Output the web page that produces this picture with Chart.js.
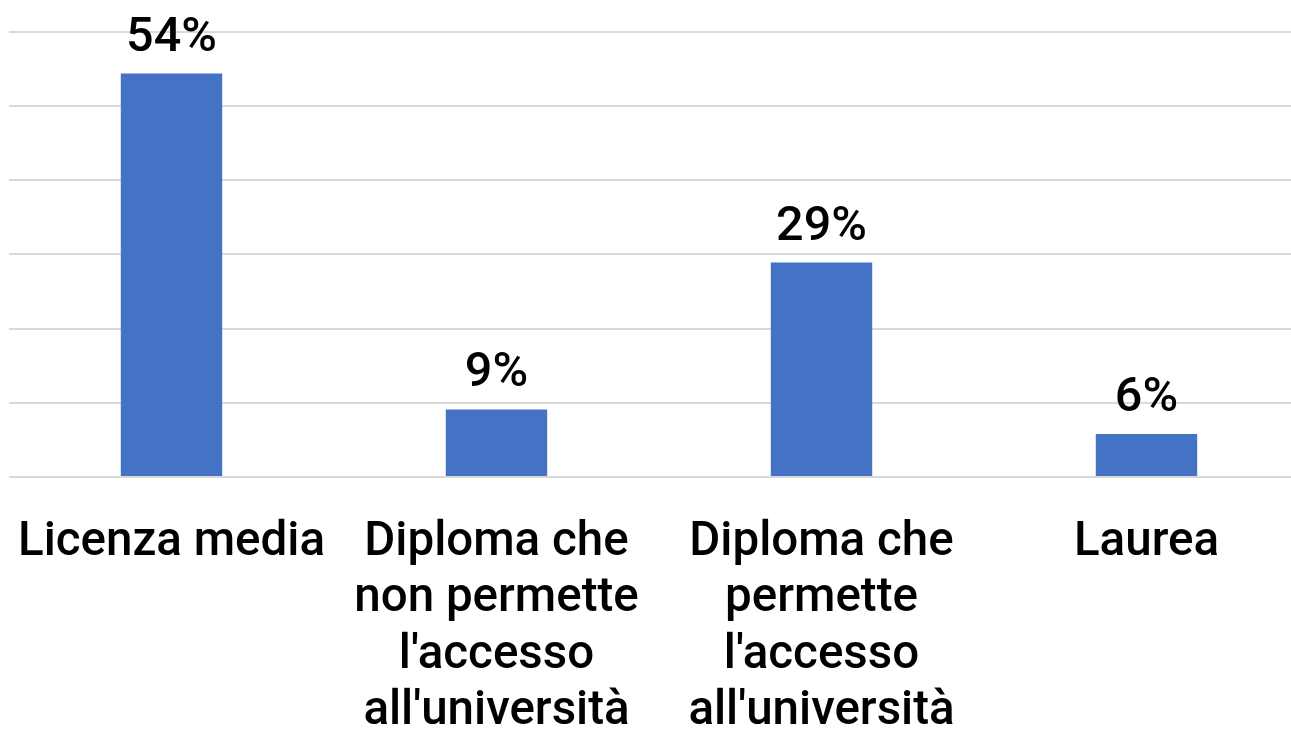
<!DOCTYPE html>
<html>
<head>
<meta charset="utf-8">
<script src="https://cdn.jsdelivr.net/npm/chart.js@4/dist/chart.umd.min.js"></script>
<style>
html,body{margin:0;padding:0;background:#fff;overflow:hidden;}
#wrap{width:1291px;height:729px;overflow:hidden;}
</style>
</head>
<body>
<div id="wrap"><canvas id="c" width="1310" height="778"></canvas></div>
<script>
const categories = [
  ["Licenza media"],
  ["Diploma che", "non permette", "l'accesso", "all'università"],
  ["Diploma che", "permette", "l'accesso", "all'università"],
  ["Laurea"]
];
const values = [54.4, 9.1, 28.9, 5.8];
const valueLabels = ["54%", "9%", "29%", "6%"];
const yTicks = [0, 10, 20, 30, 40, 50, 60];

const FONT = "Roboto, 'Noto Sans', sans-serif";

const topLabels = {
  id: 'topLabels',
  afterDatasetsDraw(chart) {
    const ctx = chart.ctx;
    const meta = chart.getDatasetMeta(0);
    ctx.save();
    ctx.font = "500 48.5px " + FONT;
    ctx.fillStyle = "#000";
    ctx.textAlign = "center";
    ctx.textBaseline = "alphabetic";
    meta.data.forEach((bar, i) => {
      ctx.fillText(valueLabels[i], bar.x, bar.y - 23);
    });
    ctx.restore();
  }
};

new Chart(document.getElementById('c'), {
  type: 'bar',
  data: {
    labels: categories,
    datasets: [{
      data: values,
      backgroundColor: '#4472C4',
      borderWidth: 0,
      barPercentage: 0.312,
      categoryPercentage: 1
    }]
  },
  options: {
    responsive: false,
    animation: false,
    layout: { padding: { left: 9, right: 1, top: 32, bottom: 0 } },
    plugins: { legend: { display: false }, tooltip: { enabled: false } },
    scales: {
      x: {
        grid: { display: false, drawTicks: false },
        border: { display: false },
        afterFit(axis) { axis.paddingLeft = 0; axis.paddingRight = 0; },
        ticks: {
          color: '#000',
          font: { family: FONT, size: 47.5, weight: '500', lineHeight: 1.19 },
          padding: 37.5,
          maxRotation: 0,
          autoSkip: false
        }
      },
      y: {
        min: 0,
        max: 60,
        afterBuildTicks(axis) { axis.ticks = yTicks.map(v => ({ value: v })); },
        grid: { color: '#d9d9d9', lineWidth: 2, drawTicks: false },
        border: { display: false },
        ticks: { display: false }
      }
    }
  },
  plugins: [topLabels]
});
</script>
</body>
</html>
